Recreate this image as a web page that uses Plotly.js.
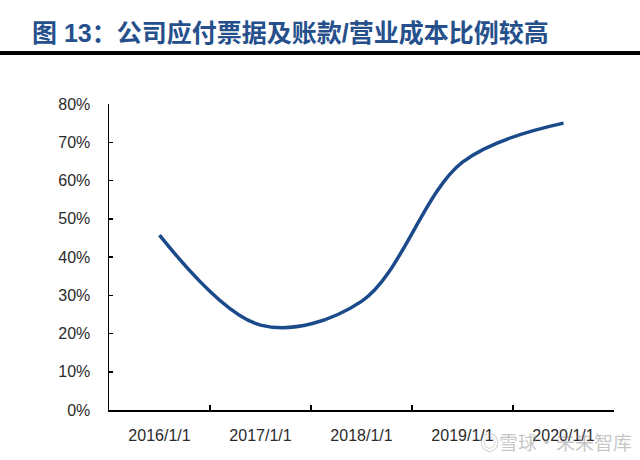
<!DOCTYPE html>
<html>
<head>
<meta charset="utf-8">
<script src="https://cdn.plot.ly/plotly-3.0.1.min.js"></script>
<style>
  html, body { margin: 0; padding: 0; background: #fff; }
  #chart { width: 640px; height: 460px; }
</style>
</head>
<body>
<div id="chart"></div>
<script>
// Data
const categories = ['2016/1/1', '2017/1/1', '2018/1/1', '2019/1/1', '2020/1/1'];
const payableToCostRatio = [0.457, 0.222, 0.284, 0.648, 0.750];
const yTickValues = [0, 0.1, 0.2, 0.3, 0.4, 0.5, 0.6, 0.7, 0.8];

const W = 640, H = 460;
const M = { l: 109, r: 26, t: 104, b: 50 };
const plotW = W - M.l - M.r, plotH = H - M.t - M.b;
const px2paperX = x => (x - M.l) / plotW;
const px2paperY = y => (H - M.b - y) / plotH;

const fontTxt = 'Liberation Sans, Arial, "Noto Sans CJK SC", sans-serif';

const trace = {
  type: 'scatter',
  mode: 'lines',
  x: categories,
  y: payableToCostRatio,
  line: { color: '#1B4A8A', width: 3.5, shape: 'spline', smoothing: 1 },
  hoverinfo: 'x+y'
};

const layout = {
  width: W, height: H,
  margin: M,
  paper_bgcolor: '#ffffff',
  plot_bgcolor: '#ffffff',
  showlegend: false,
  title: {
    text: '<b>图 13：公司应付票据及账款/营业成本比例较高</b>',
    font: { family: 'Liberation Sans, Arial, "Noto Sans CJK SC", sans-serif', size: 25, color: '#25508C' },
    xref: 'container', yref: 'container',
    x: 32 / W, xanchor: 'left',
    y: 1 - 33 / H, yanchor: 'middle'
  },
  xaxis: {
    type: 'category',
    range: [-0.5, 4.5],
    tickson: 'boundaries',
    ticks: 'inside', ticklen: 5, tickwidth: 1.5, tickcolor: '#000',
    showline: true, linecolor: '#000', linewidth: 1.5,
    showgrid: false, zeroline: false,
    tickfont: { family: fontTxt, size: 16, color: '#2b2b2b' },
    ticklabelstandoff: 10,
    fixedrange: true
  },
  yaxis: {
    range: [0, 0.8],
    tickvals: yTickValues,
    tickformat: '.0%',
    ticks: 'inside', ticklen: 4, tickwidth: 1.5, tickcolor: '#000',
    showline: true, linecolor: '#000', linewidth: 1.5,
    showgrid: false, zeroline: false,
    tickfont: { family: fontTxt, size: 16, color: '#2b2b2b' },
    ticklabelstandoff: 14,
    fixedrange: true
  },
  shapes: [
    {
      type: 'line', xref: 'paper', yref: 'paper',
      x0: px2paperX(0), x1: px2paperX(W),
      y0: px2paperY(53), y1: px2paperY(53),
      line: { color: '#000000', width: 4 }
    }
  ],
  annotations: [
    {
      xref: 'paper', yref: 'paper',
      x: px2paperX(556), y: px2paperY(441),
      xanchor: 'center', yanchor: 'middle',
      text: '◎雪球·未来智库',
      showarrow: false,
      font: { family: '"Noto Sans CJK SC", sans-serif', size: 19, color: 'rgba(140,140,140,0.5)' }
    }
  ]
};

Plotly.newPlot('chart', [trace], layout, { displayModeBar: false, staticPlot: true });
</script>
</body>
</html>
